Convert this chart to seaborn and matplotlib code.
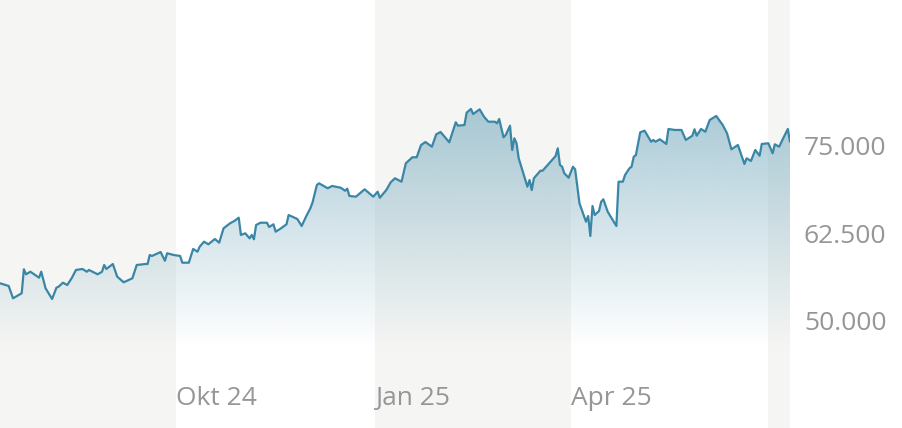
import matplotlib
matplotlib.use("Agg")
import matplotlib.pyplot as plt
import matplotlib.dates as mdates
import numpy as np
import pandas as pd
import seaborn as sns

# ---------------- data ----------------
dates = [
    "2024-07-12", "2024-07-16", "2024-07-18", "2024-07-22", "2024-07-23", "2024-07-24", "2024-07-26",
    "2024-07-30", "2024-07-31", "2024-08-02", "2024-08-05", "2024-08-07", "2024-08-08", "2024-08-10",
    "2024-08-12", "2024-08-14", "2024-08-16", "2024-08-19", "2024-08-21", "2024-08-22", "2024-08-26",
    "2024-08-28", "2024-08-29", "2024-08-30", "2024-09-02", "2024-09-04", "2024-09-07", "2024-09-11",
    "2024-09-13", "2024-09-17", "2024-09-18", "2024-09-19", "2024-09-20", "2024-09-24", "2024-09-26",
    "2024-09-27", "2024-09-30", "2024-10-03", "2024-10-04", "2024-10-07", "2024-10-09", "2024-10-11",
    "2024-10-12", "2024-10-14", "2024-10-16", "2024-10-19", "2024-10-21", "2024-10-23", "2024-10-26",
    "2024-10-28", "2024-10-30", "2024-10-31", "2024-11-02", "2024-11-04", "2024-11-05", "2024-11-06",
    "2024-11-07", "2024-11-09", "2024-11-12", "2024-11-13", "2024-11-15", "2024-11-16", "2024-11-18",
    "2024-11-21", "2024-11-22", "2024-11-26", "2024-11-28", "2024-11-30", "2024-12-02", "2024-12-03",
    "2024-12-05", "2024-12-06", "2024-12-10", "2024-12-12", "2024-12-16", "2024-12-18", "2024-12-19",
    "2024-12-20", "2024-12-23", "2024-12-27", "2024-12-31", "2025-01-02", "2025-01-03", "2025-01-06",
    "2025-01-08", "2025-01-10", "2025-01-13", "2025-01-15", "2025-01-18", "2025-01-20", "2025-01-22",
    "2025-01-24", "2025-01-27", "2025-01-29", "2025-01-31", "2025-02-04", "2025-02-07", "2025-02-08",
    "2025-02-11", "2025-02-12", "2025-02-14", "2025-02-15", "2025-02-18", "2025-02-20", "2025-02-22",
    "2025-02-25", "2025-02-26", "2025-02-27", "2025-03-01", "2025-03-02", "2025-03-04", "2025-03-05",
    "2025-03-06", "2025-03-07", "2025-03-08", "2025-03-12", "2025-03-13", "2025-03-14", "2025-03-15",
    "2025-03-18", "2025-03-19", "2025-03-25", "2025-03-26", "2025-03-27", "2025-03-28", "2025-03-29",
    "2025-03-31", "2025-04-02", "2025-04-03", "2025-04-05", "2025-04-08", "2025-04-09", "2025-04-10",
    "2025-04-11", "2025-04-12", "2025-04-14", "2025-04-15", "2025-04-16", "2025-04-18", "2025-04-22",
    "2025-04-23", "2025-04-25", "2025-04-26", "2025-04-28", "2025-04-29", "2025-04-30", "2025-05-01",
    "2025-05-03", "2025-05-05", "2025-05-08", "2025-05-09", "2025-05-10", "2025-05-12", "2025-05-15",
    "2025-05-16", "2025-05-19", "2025-05-21", "2025-05-22", "2025-05-24", "2025-05-27", "2025-05-28",
    "2025-05-29", "2025-05-31", "2025-06-02", "2025-06-04", "2025-06-07", "2025-06-10", "2025-06-12",
    "2025-06-14", "2025-06-17", "2025-06-20", "2025-06-21", "2025-06-23", "2025-06-25", "2025-06-27",
    "2025-06-28", "2025-07-01", "2025-07-03", "2025-07-04", "2025-07-06", "2025-07-08", "2025-07-10",
    "2025-07-11",
]
prices = [
    55390, 55000, 53240, 53960, 57390, 56670, 57040,
    56190, 57040, 54670, 53140, 54760, 54900, 55470,
    55140, 56100, 57290, 57430, 57040, 57290, 56670,
    57040, 58000, 57430, 58140, 56330, 55530, 56100,
    58000, 58140, 58140, 59430, 59290, 59850, 58610,
    59670, 59430, 59290, 58330, 58330, 60290, 59900,
    60610, 61330, 60960, 61710, 61190, 63240, 63960,
    64290, 64760, 62290, 62530, 61810, 62290, 61670,
    63710, 64040, 64040, 63430, 63810, 62760, 63140,
    63810, 65140, 64570, 63570, 64900, 66100, 66930,
    69430, 69670, 68960, 69290, 69040, 68610, 68900,
    67860, 67760, 68810, 67760, 68470, 67610, 68710,
    69810, 70390, 69900, 72530, 73390, 73390, 75140,
    75570, 74900, 76670, 77000, 75530, 78390, 77900,
    78000, 79760, 80290, 79570, 80240, 79190, 78470,
    78470, 78240, 78860, 76240, 76570, 77900, 74430,
    76100, 75390, 73240, 69190, 70140, 68710, 70390,
    71470, 71470, 73570, 74670, 72290, 72040, 71100,
    70470, 72040, 71670, 66810, 64190, 65000, 62140,
    66430, 65140, 65710, 67040, 67390, 65610, 63570,
    69900, 69900, 70860, 71810, 72040, 73470, 73710,
    76960, 77190, 75610, 75860, 75610, 75960, 75290,
    77430, 77290, 77290, 77290, 75860, 76470, 77390,
    76470, 77430, 77040, 78710, 79290, 78000, 76810,
    74530, 75140, 72430, 73240, 72860, 74430, 73610,
    75290, 75390, 73960, 75240, 74900, 76190, 77430,
    75610,
]
band_edges = ["2024-07-12", "2024-10-01", "2025-01-01", "2025-04-01", "2025-07-01", "2025-07-11"]
x_tick_dates = ["2024-10-01", "2025-01-01", "2025-04-01"]
x_tick_labels = ["Okt 24", "Jan 25", "Apr 25"]
y_ticks = [50000, 62500, 75000]
y_tick_labels = ["50.000", "62.500", "75.000"]

# ---------------- style ----------------
sns.set_style("white")
plt.rcParams["font.family"] = ["Open Sans", "DejaVu Sans"]

LINE = "#3a86a6"
FILL = np.array([143, 185, 201]) / 255.0
BAND = "#f5f5f3"
TEXT = "#969696"

df = pd.DataFrame({"date": pd.to_datetime(dates), "price": prices})
edges = pd.to_datetime(band_edges)

fig = plt.figure(figsize=(9.02, 4.28), dpi=100)
ax = fig.add_axes([0, 0, 790 / 902, 1])

y_bottom, y_top = 34714, 95857
fill_base = 46143

# alternating quarter bands
for i in range(len(edges) - 1):
    if i % 2 == 0:
        ax.axvspan(edges[i], edges[i + 1], color=BAND, lw=0, zorder=0)

# gradient fill under the line
poly = ax.fill_between(df["date"], df["price"], fill_base, color="none", lw=0)
x0, x1 = mdates.date2num(edges[0]), mdates.date2num(edges[-1])
grad_top = 80500
n = 256
alpha = np.linspace(0.76, 0.0, n)
img = np.zeros((n, 2, 4))
img[:, :, :3] = FILL
img[:, :, 3] = alpha[:, None]
im = ax.imshow(img, extent=[x0, x1, fill_base, grad_top], aspect="auto",
               origin="upper", zorder=1, interpolation="bilinear")
path = poly.get_paths()[0]
im.set_clip_path(path, transform=ax.transData)

sns.lineplot(data=df, x="date", y="price", ax=ax, color=LINE, linewidth=1.6, zorder=3)

ax.set_xlim(edges[0], edges[-1])
ax.set_ylim(y_bottom, y_top)
ax.set_xlabel("")
ax.set_ylabel("")
for s in ax.spines.values():
    s.set_visible(False)

ax.yaxis.tick_right()
ax.set_yticks(y_ticks)
ax.set_yticklabels(y_tick_labels)
ax.tick_params(axis="y", length=0, pad=10, labelsize=19, labelcolor=TEXT)

ax.set_xticks(pd.to_datetime(x_tick_dates))
ax.set_xticklabels(x_tick_labels)
ax.tick_params(axis="x", length=0, pad=-21, labelsize=19, labelcolor=TEXT)
for lab in ax.get_xticklabels():
    lab.set_ha("left")
    lab.set_va("center")

fig.savefig("out.png", dpi=100)
